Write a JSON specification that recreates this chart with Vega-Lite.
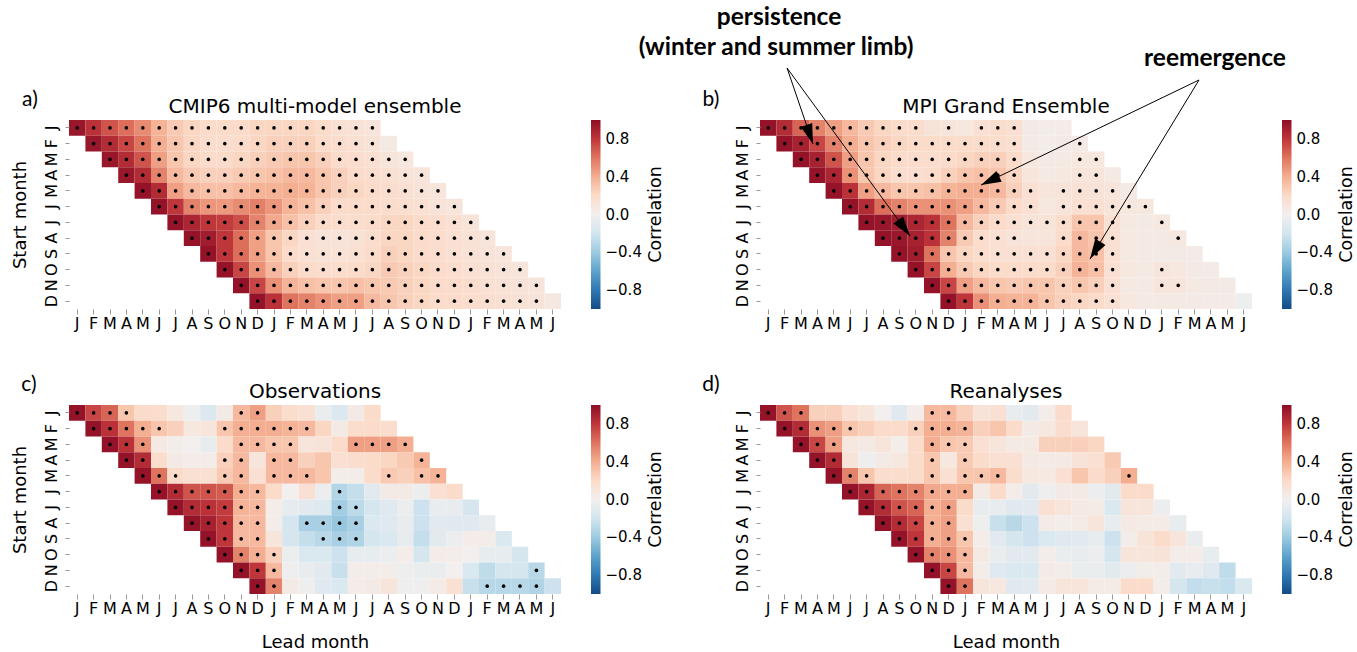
{
"$schema":"https://vega.github.io/schema/vega-lite/v6.json",
"background":"white",
"padding":{"left":11,"top":4,"right":0,"bottom":0},
"bounds":"flush",
"columns":2,
"spacing":{"row":96,"column":199},
"config":{
"view":{"stroke":null},
"font":"DejaVu Sans",
"axis":{"domain":false,"grid":false,"tickColor":"#999","tickWidth":1,"labelFont":"DejaVu Sans","labelFontSize":16,"labelColor":"#000","titleFont":"DejaVu Sans","titleFontSize":18,"titleFontWeight":"normal","titleColor":"#000","labelOverlap":false},
"legend":{"labelFont":"DejaVu Sans","labelColor":"#000","labelFontSize":15,"gradientStrokeWidth":0,"padding":0}
},
"datasets":{
"a":[
{"r":0,"c":0,"v":0.95,"s":1},{"r":0,"c":1,"v":0.82,"s":1},{"r":0,"c":2,"v":0.7,"s":1},{"r":0,"c":3,"v":0.62,"s":1},{"r":0,"c":4,"v":0.52,"s":1},{"r":0,"c":5,"v":0.38,"s":1},{"r":0,"c":6,"v":0.28,"s":1},{"r":0,"c":7,"v":0.22,"s":1},{"r":0,"c":8,"v":0.2,"s":1},{"r":0,"c":9,"v":0.2,"s":1},{"r":0,"c":10,"v":0.2,"s":1},{"r":0,"c":11,"v":0.22,"s":1},{"r":0,"c":12,"v":0.22,"s":1},{"r":0,"c":13,"v":0.22,"s":1},{"r":0,"c":14,"v":0.22,"s":1},{"r":0,"c":15,"v":0.2,"s":1},{"r":0,"c":16,"v":0.15,"s":1},{"r":0,"c":17,"v":0.13,"s":1},{"r":0,"c":18,"v":0.1,"s":1},
{"r":1,"c":1,"v":0.95,"s":1},{"r":1,"c":2,"v":0.85,"s":1},{"r":1,"c":3,"v":0.75,"s":1},{"r":1,"c":4,"v":0.6,"s":1},{"r":1,"c":5,"v":0.4,"s":1},{"r":1,"c":6,"v":0.3,"s":1},{"r":1,"c":7,"v":0.22,"s":1},{"r":1,"c":8,"v":0.18,"s":1},{"r":1,"c":9,"v":0.18,"s":1},{"r":1,"c":10,"v":0.2,"s":1},{"r":1,"c":11,"v":0.22,"s":1},{"r":1,"c":12,"v":0.25,"s":1},{"r":1,"c":13,"v":0.25,"s":1},{"r":1,"c":14,"v":0.25,"s":1},{"r":1,"c":15,"v":0.2,"s":1},{"r":1,"c":16,"v":0.18,"s":1},{"r":1,"c":17,"v":0.15,"s":1},{"r":1,"c":18,"v":0.12,"s":1},{"r":1,"c":19,"v":0.06,"s":0},
{"r":2,"c":2,"v":0.95,"s":1},{"r":2,"c":3,"v":0.85,"s":1},{"r":2,"c":4,"v":0.7,"s":1},{"r":2,"c":5,"v":0.45,"s":1},{"r":2,"c":6,"v":0.3,"s":1},{"r":2,"c":7,"v":0.22,"s":1},{"r":2,"c":8,"v":0.2,"s":1},{"r":2,"c":9,"v":0.2,"s":1},{"r":2,"c":10,"v":0.22,"s":1},{"r":2,"c":11,"v":0.25,"s":1},{"r":2,"c":12,"v":0.28,"s":1},{"r":2,"c":13,"v":0.3,"s":1},{"r":2,"c":14,"v":0.3,"s":1},{"r":2,"c":15,"v":0.25,"s":1},{"r":2,"c":16,"v":0.2,"s":1},{"r":2,"c":17,"v":0.18,"s":1},{"r":2,"c":18,"v":0.15,"s":1},{"r":2,"c":19,"v":0.1,"s":1},{"r":2,"c":20,"v":0.08,"s":1},
{"r":3,"c":3,"v":0.95,"s":1},{"r":3,"c":4,"v":0.85,"s":1},{"r":3,"c":5,"v":0.55,"s":1},{"r":3,"c":6,"v":0.35,"s":1},{"r":3,"c":7,"v":0.28,"s":1},{"r":3,"c":8,"v":0.25,"s":1},{"r":3,"c":9,"v":0.25,"s":1},{"r":3,"c":10,"v":0.28,"s":1},{"r":3,"c":11,"v":0.3,"s":1},{"r":3,"c":12,"v":0.32,"s":1},{"r":3,"c":13,"v":0.35,"s":1},{"r":3,"c":14,"v":0.35,"s":1},{"r":3,"c":15,"v":0.3,"s":1},{"r":3,"c":16,"v":0.25,"s":1},{"r":3,"c":17,"v":0.2,"s":1},{"r":3,"c":18,"v":0.18,"s":1},{"r":3,"c":19,"v":0.15,"s":1},{"r":3,"c":20,"v":0.12,"s":1},{"r":3,"c":21,"v":0.1,"s":1},
{"r":4,"c":4,"v":0.97,"s":1},{"r":4,"c":5,"v":0.85,"s":1},{"r":4,"c":6,"v":0.45,"s":1},{"r":4,"c":7,"v":0.35,"s":1},{"r":4,"c":8,"v":0.32,"s":1},{"r":4,"c":9,"v":0.32,"s":1},{"r":4,"c":10,"v":0.35,"s":1},{"r":4,"c":11,"v":0.38,"s":1},{"r":4,"c":12,"v":0.38,"s":1},{"r":4,"c":13,"v":0.4,"s":1},{"r":4,"c":14,"v":0.38,"s":1},{"r":4,"c":15,"v":0.3,"s":1},{"r":4,"c":16,"v":0.25,"s":1},{"r":4,"c":17,"v":0.22,"s":1},{"r":4,"c":18,"v":0.2,"s":1},{"r":4,"c":19,"v":0.18,"s":1},{"r":4,"c":20,"v":0.15,"s":1},{"r":4,"c":21,"v":0.12,"s":1},{"r":4,"c":22,"v":0.1,"s":1},
{"r":5,"c":5,"v":0.97,"s":1},{"r":5,"c":6,"v":0.8,"s":1},{"r":5,"c":7,"v":0.55,"s":1},{"r":5,"c":8,"v":0.48,"s":1},{"r":5,"c":9,"v":0.47,"s":1},{"r":5,"c":10,"v":0.52,"s":1},{"r":5,"c":11,"v":0.56,"s":1},{"r":5,"c":12,"v":0.48,"s":1},{"r":5,"c":13,"v":0.38,"s":1},{"r":5,"c":14,"v":0.32,"s":1},{"r":5,"c":15,"v":0.25,"s":1},{"r":5,"c":16,"v":0.2,"s":1},{"r":5,"c":17,"v":0.2,"s":1},{"r":5,"c":18,"v":0.2,"s":1},{"r":5,"c":19,"v":0.18,"s":1},{"r":5,"c":20,"v":0.17,"s":1},{"r":5,"c":21,"v":0.15,"s":1},{"r":5,"c":22,"v":0.12,"s":1},{"r":5,"c":23,"v":0.1,"s":1},
{"r":6,"c":6,"v":0.97,"s":1},{"r":6,"c":7,"v":0.88,"s":1},{"r":6,"c":8,"v":0.8,"s":1},{"r":6,"c":9,"v":0.78,"s":1},{"r":6,"c":10,"v":0.72,"s":1},{"r":6,"c":11,"v":0.55,"s":1},{"r":6,"c":12,"v":0.42,"s":1},{"r":6,"c":13,"v":0.32,"s":1},{"r":6,"c":14,"v":0.25,"s":1},{"r":6,"c":15,"v":0.2,"s":1},{"r":6,"c":16,"v":0.18,"s":1},{"r":6,"c":17,"v":0.18,"s":1},{"r":6,"c":18,"v":0.2,"s":1},{"r":6,"c":19,"v":0.22,"s":1},{"r":6,"c":20,"v":0.22,"s":1},{"r":6,"c":21,"v":0.2,"s":1},{"r":6,"c":22,"v":0.18,"s":1},{"r":6,"c":23,"v":0.15,"s":1},{"r":6,"c":24,"v":0.12,"s":1},
{"r":7,"c":7,"v":0.97,"s":1},{"r":7,"c":8,"v":0.92,"s":1},{"r":7,"c":9,"v":0.8,"s":1},{"r":7,"c":10,"v":0.62,"s":1},{"r":7,"c":11,"v":0.45,"s":1},{"r":7,"c":12,"v":0.3,"s":1},{"r":7,"c":13,"v":0.22,"s":1},{"r":7,"c":14,"v":0.15,"s":1},{"r":7,"c":15,"v":0.12,"s":1},{"r":7,"c":16,"v":0.12,"s":1},{"r":7,"c":17,"v":0.13,"s":1},{"r":7,"c":18,"v":0.18,"s":1},{"r":7,"c":19,"v":0.22,"s":1},{"r":7,"c":20,"v":0.22,"s":1},{"r":7,"c":21,"v":0.2,"s":1},{"r":7,"c":22,"v":0.18,"s":1},{"r":7,"c":23,"v":0.15,"s":1},{"r":7,"c":24,"v":0.13,"s":1},{"r":7,"c":25,"v":0.1,"s":1},
{"r":8,"c":8,"v":0.97,"s":1},{"r":8,"c":9,"v":0.8,"s":1},{"r":8,"c":10,"v":0.62,"s":1},{"r":8,"c":11,"v":0.45,"s":1},{"r":8,"c":12,"v":0.3,"s":1},{"r":8,"c":13,"v":0.2,"s":1},{"r":8,"c":14,"v":0.15,"s":1},{"r":8,"c":15,"v":0.13,"s":1},{"r":8,"c":16,"v":0.13,"s":1},{"r":8,"c":17,"v":0.15,"s":1},{"r":8,"c":18,"v":0.2,"s":1},{"r":8,"c":19,"v":0.25,"s":1},{"r":8,"c":20,"v":0.22,"s":1},{"r":8,"c":21,"v":0.2,"s":1},{"r":8,"c":22,"v":0.18,"s":1},{"r":8,"c":23,"v":0.15,"s":1},{"r":8,"c":24,"v":0.13,"s":1},{"r":8,"c":25,"v":0.12,"s":1},{"r":8,"c":26,"v":0.1,"s":1},
{"r":9,"c":9,"v":0.97,"s":1},{"r":9,"c":10,"v":0.75,"s":1},{"r":9,"c":11,"v":0.5,"s":1},{"r":9,"c":12,"v":0.35,"s":1},{"r":9,"c":13,"v":0.25,"s":1},{"r":9,"c":14,"v":0.2,"s":1},{"r":9,"c":15,"v":0.18,"s":1},{"r":9,"c":16,"v":0.18,"s":1},{"r":9,"c":17,"v":0.2,"s":1},{"r":9,"c":18,"v":0.22,"s":1},{"r":9,"c":19,"v":0.28,"s":1},{"r":9,"c":20,"v":0.25,"s":1},{"r":9,"c":21,"v":0.22,"s":1},{"r":9,"c":22,"v":0.2,"s":1},{"r":9,"c":23,"v":0.18,"s":1},{"r":9,"c":24,"v":0.15,"s":1},{"r":9,"c":25,"v":0.13,"s":1},{"r":9,"c":26,"v":0.12,"s":1},{"r":9,"c":27,"v":0.1,"s":1},
{"r":10,"c":10,"v":0.97,"s":1},{"r":10,"c":11,"v":0.75,"s":1},{"r":10,"c":12,"v":0.5,"s":1},{"r":10,"c":13,"v":0.38,"s":1},{"r":10,"c":14,"v":0.32,"s":1},{"r":10,"c":15,"v":0.3,"s":1},{"r":10,"c":16,"v":0.3,"s":1},{"r":10,"c":17,"v":0.32,"s":1},{"r":10,"c":18,"v":0.3,"s":1},{"r":10,"c":19,"v":0.28,"s":1},{"r":10,"c":20,"v":0.25,"s":1},{"r":10,"c":21,"v":0.22,"s":1},{"r":10,"c":22,"v":0.2,"s":1},{"r":10,"c":23,"v":0.2,"s":1},{"r":10,"c":24,"v":0.18,"s":1},{"r":10,"c":25,"v":0.15,"s":1},{"r":10,"c":26,"v":0.13,"s":1},{"r":10,"c":27,"v":0.12,"s":1},{"r":10,"c":28,"v":0.1,"s":1},
{"r":11,"c":11,"v":0.97,"s":1},{"r":11,"c":12,"v":0.82,"s":1},{"r":11,"c":13,"v":0.6,"s":1},{"r":11,"c":14,"v":0.55,"s":1},{"r":11,"c":15,"v":0.5,"s":1},{"r":11,"c":16,"v":0.45,"s":1},{"r":11,"c":17,"v":0.45,"s":1},{"r":11,"c":18,"v":0.35,"s":1},{"r":11,"c":19,"v":0.3,"s":1},{"r":11,"c":20,"v":0.25,"s":1},{"r":11,"c":21,"v":0.22,"s":1},{"r":11,"c":22,"v":0.2,"s":1},{"r":11,"c":23,"v":0.2,"s":1},{"r":11,"c":24,"v":0.18,"s":1},{"r":11,"c":25,"v":0.17,"s":1},{"r":11,"c":26,"v":0.15,"s":1},{"r":11,"c":27,"v":0.13,"s":1},{"r":11,"c":28,"v":0.12,"s":1},{"r":11,"c":29,"v":0.07,"s":0}
],
"b":[
{"r":0,"c":0,"v":0.97,"s":1},{"r":0,"c":1,"v":0.85,"s":1},{"r":0,"c":2,"v":0.65,"s":1},{"r":0,"c":3,"v":0.55,"s":1},{"r":0,"c":4,"v":0.45,"s":1},{"r":0,"c":5,"v":0.35,"s":1},{"r":0,"c":6,"v":0.28,"s":1},{"r":0,"c":7,"v":0.22,"s":1},{"r":0,"c":8,"v":0.2,"s":1},{"r":0,"c":9,"v":0.18,"s":1},{"r":0,"c":10,"v":0.12,"s":0},{"r":0,"c":11,"v":0.1,"s":1},{"r":0,"c":12,"v":0.08,"s":0},{"r":0,"c":13,"v":0.15,"s":1},{"r":0,"c":14,"v":0.18,"s":1},{"r":0,"c":15,"v":0.15,"s":1},{"r":0,"c":16,"v":0.05,"s":0},{"r":0,"c":17,"v":0.03,"s":0},{"r":0,"c":18,"v":0.03,"s":0},
{"r":1,"c":1,"v":0.97,"s":1},{"r":1,"c":2,"v":0.9,"s":1},{"r":1,"c":3,"v":0.75,"s":1},{"r":1,"c":4,"v":0.55,"s":1},{"r":1,"c":5,"v":0.4,"s":1},{"r":1,"c":6,"v":0.3,"s":1},{"r":1,"c":7,"v":0.25,"s":1},{"r":1,"c":8,"v":0.22,"s":1},{"r":1,"c":9,"v":0.2,"s":1},{"r":1,"c":10,"v":0.2,"s":1},{"r":1,"c":11,"v":0.2,"s":1},{"r":1,"c":12,"v":0.2,"s":1},{"r":1,"c":13,"v":0.2,"s":1},{"r":1,"c":14,"v":0.18,"s":1},{"r":1,"c":15,"v":0.15,"s":1},{"r":1,"c":16,"v":0.05,"s":0},{"r":1,"c":17,"v":0.03,"s":0},{"r":1,"c":18,"v":0.05,"s":0},{"r":1,"c":19,"v":0.05,"s":1},
{"r":2,"c":2,"v":0.97,"s":1},{"r":2,"c":3,"v":0.9,"s":1},{"r":2,"c":4,"v":0.7,"s":1},{"r":2,"c":5,"v":0.45,"s":1},{"r":2,"c":6,"v":0.3,"s":1},{"r":2,"c":7,"v":0.22,"s":1},{"r":2,"c":8,"v":0.2,"s":1},{"r":2,"c":9,"v":0.18,"s":1},{"r":2,"c":10,"v":0.18,"s":1},{"r":2,"c":11,"v":0.2,"s":1},{"r":2,"c":12,"v":0.22,"s":1},{"r":2,"c":13,"v":0.25,"s":1},{"r":2,"c":14,"v":0.25,"s":1},{"r":2,"c":15,"v":0.2,"s":1},{"r":2,"c":16,"v":0.08,"s":0},{"r":2,"c":17,"v":0.05,"s":0},{"r":2,"c":18,"v":0.06,"s":0},{"r":2,"c":19,"v":0.08,"s":1},{"r":2,"c":20,"v":0.08,"s":1},
{"r":3,"c":3,"v":0.97,"s":1},{"r":3,"c":4,"v":0.88,"s":1},{"r":3,"c":5,"v":0.5,"s":1},{"r":3,"c":6,"v":0.3,"s":1},{"r":3,"c":7,"v":0.22,"s":1},{"r":3,"c":8,"v":0.18,"s":1},{"r":3,"c":9,"v":0.17,"s":1},{"r":3,"c":10,"v":0.2,"s":1},{"r":3,"c":11,"v":0.25,"s":1},{"r":3,"c":12,"v":0.3,"s":1},{"r":3,"c":13,"v":0.32,"s":1},{"r":3,"c":14,"v":0.3,"s":1},{"r":3,"c":15,"v":0.22,"s":1},{"r":3,"c":16,"v":0.1,"s":0},{"r":3,"c":17,"v":0.06,"s":0},{"r":3,"c":18,"v":0.08,"s":0},{"r":3,"c":19,"v":0.1,"s":1},{"r":3,"c":20,"v":0.1,"s":1},{"r":3,"c":21,"v":0.06,"s":0},
{"r":4,"c":4,"v":0.97,"s":1},{"r":4,"c":5,"v":0.82,"s":1},{"r":4,"c":6,"v":0.45,"s":1},{"r":4,"c":7,"v":0.35,"s":1},{"r":4,"c":8,"v":0.3,"s":1},{"r":4,"c":9,"v":0.3,"s":1},{"r":4,"c":10,"v":0.32,"s":1},{"r":4,"c":11,"v":0.38,"s":1},{"r":4,"c":12,"v":0.4,"s":1},{"r":4,"c":13,"v":0.4,"s":1},{"r":4,"c":14,"v":0.35,"s":1},{"r":4,"c":15,"v":0.25,"s":1},{"r":4,"c":16,"v":0.15,"s":1},{"r":4,"c":17,"v":0.1,"s":0},{"r":4,"c":18,"v":0.12,"s":1},{"r":4,"c":19,"v":0.13,"s":1},{"r":4,"c":20,"v":0.12,"s":1},{"r":4,"c":21,"v":0.1,"s":1},{"r":4,"c":22,"v":0.05,"s":0},
{"r":5,"c":5,"v":0.97,"s":1},{"r":5,"c":6,"v":0.85,"s":1},{"r":5,"c":7,"v":0.62,"s":1},{"r":5,"c":8,"v":0.55,"s":1},{"r":5,"c":9,"v":0.5,"s":1},{"r":5,"c":10,"v":0.5,"s":1},{"r":5,"c":11,"v":0.5,"s":1},{"r":5,"c":12,"v":0.45,"s":1},{"r":5,"c":13,"v":0.35,"s":1},{"r":5,"c":14,"v":0.28,"s":1},{"r":5,"c":15,"v":0.2,"s":1},{"r":5,"c":16,"v":0.15,"s":1},{"r":5,"c":17,"v":0.08,"s":0},{"r":5,"c":18,"v":0.12,"s":1},{"r":5,"c":19,"v":0.15,"s":1},{"r":5,"c":20,"v":0.15,"s":1},{"r":5,"c":21,"v":0.12,"s":1},{"r":5,"c":22,"v":0.08,"s":1},{"r":5,"c":23,"v":0.08,"s":1},
{"r":6,"c":6,"v":0.97,"s":1},{"r":6,"c":7,"v":0.95,"s":1},{"r":6,"c":8,"v":0.92,"s":1},{"r":6,"c":9,"v":0.88,"s":1},{"r":6,"c":10,"v":0.82,"s":1},{"r":6,"c":11,"v":0.6,"s":1},{"r":6,"c":12,"v":0.35,"s":1},{"r":6,"c":13,"v":0.25,"s":1},{"r":6,"c":14,"v":0.2,"s":1},{"r":6,"c":15,"v":0.15,"s":1},{"r":6,"c":16,"v":0.12,"s":1},{"r":6,"c":17,"v":0.12,"s":1},{"r":6,"c":18,"v":0.18,"s":1},{"r":6,"c":19,"v":0.3,"s":1},{"r":6,"c":20,"v":0.3,"s":1},{"r":6,"c":21,"v":0.15,"s":1},{"r":6,"c":22,"v":0.06,"s":0},{"r":6,"c":23,"v":0.05,"s":0},{"r":6,"c":24,"v":0.08,"s":1},
{"r":7,"c":7,"v":0.97,"s":1},{"r":7,"c":8,"v":0.95,"s":1},{"r":7,"c":9,"v":0.9,"s":1},{"r":7,"c":10,"v":0.82,"s":1},{"r":7,"c":11,"v":0.55,"s":1},{"r":7,"c":12,"v":0.28,"s":1},{"r":7,"c":13,"v":0.18,"s":1},{"r":7,"c":14,"v":0.15,"s":1},{"r":7,"c":15,"v":0.12,"s":1},{"r":7,"c":16,"v":0.1,"s":0},{"r":7,"c":17,"v":0.1,"s":0},{"r":7,"c":18,"v":0.2,"s":1},{"r":7,"c":19,"v":0.35,"s":1},{"r":7,"c":20,"v":0.3,"s":1},{"r":7,"c":21,"v":0.15,"s":1},{"r":7,"c":22,"v":0.06,"s":0},{"r":7,"c":23,"v":0.06,"s":0},{"r":7,"c":24,"v":0.06,"s":0},{"r":7,"c":25,"v":0.08,"s":1},
{"r":8,"c":8,"v":0.97,"s":1},{"r":8,"c":9,"v":0.92,"s":1},{"r":8,"c":10,"v":0.6,"s":1},{"r":8,"c":11,"v":0.3,"s":1},{"r":8,"c":12,"v":0.22,"s":1},{"r":8,"c":13,"v":0.18,"s":1},{"r":8,"c":14,"v":0.15,"s":1},{"r":8,"c":15,"v":0.15,"s":1},{"r":8,"c":16,"v":0.15,"s":1},{"r":8,"c":17,"v":0.15,"s":1},{"r":8,"c":18,"v":0.22,"s":1},{"r":8,"c":19,"v":0.35,"s":1},{"r":8,"c":20,"v":0.32,"s":1},{"r":8,"c":21,"v":0.15,"s":1},{"r":8,"c":22,"v":0.06,"s":0},{"r":8,"c":23,"v":0.06,"s":0},{"r":8,"c":24,"v":0.05,"s":0},{"r":8,"c":25,"v":0.05,"s":0},{"r":8,"c":26,"v":0.04,"s":0},
{"r":9,"c":9,"v":0.97,"s":1},{"r":9,"c":10,"v":0.75,"s":1},{"r":9,"c":11,"v":0.4,"s":1},{"r":9,"c":12,"v":0.28,"s":1},{"r":9,"c":13,"v":0.22,"s":1},{"r":9,"c":14,"v":0.2,"s":1},{"r":9,"c":15,"v":0.2,"s":1},{"r":9,"c":16,"v":0.2,"s":1},{"r":9,"c":17,"v":0.2,"s":1},{"r":9,"c":18,"v":0.25,"s":1},{"r":9,"c":19,"v":0.38,"s":1},{"r":9,"c":20,"v":0.32,"s":1},{"r":9,"c":21,"v":0.15,"s":1},{"r":9,"c":22,"v":0.08,"s":0},{"r":9,"c":23,"v":0.06,"s":0},{"r":9,"c":24,"v":0.1,"s":1},{"r":9,"c":25,"v":0.08,"s":0},{"r":9,"c":26,"v":0.05,"s":0},{"r":9,"c":27,"v":0.04,"s":0},
{"r":10,"c":10,"v":0.97,"s":1},{"r":10,"c":11,"v":0.75,"s":1},{"r":10,"c":12,"v":0.45,"s":1},{"r":10,"c":13,"v":0.35,"s":1},{"r":10,"c":14,"v":0.3,"s":1},{"r":10,"c":15,"v":0.28,"s":1},{"r":10,"c":16,"v":0.3,"s":1},{"r":10,"c":17,"v":0.3,"s":1},{"r":10,"c":18,"v":0.25,"s":1},{"r":10,"c":19,"v":0.3,"s":1},{"r":10,"c":20,"v":0.25,"s":1},{"r":10,"c":21,"v":0.15,"s":1},{"r":10,"c":22,"v":0.06,"s":0},{"r":10,"c":23,"v":0.06,"s":0},{"r":10,"c":24,"v":0.1,"s":1},{"r":10,"c":25,"v":0.1,"s":1},{"r":10,"c":26,"v":0.06,"s":0},{"r":10,"c":27,"v":0.05,"s":0},{"r":10,"c":28,"v":0.05,"s":0},
{"r":11,"c":11,"v":0.97,"s":1},{"r":11,"c":12,"v":0.8,"s":1},{"r":11,"c":13,"v":0.5,"s":1},{"r":11,"c":14,"v":0.4,"s":1},{"r":11,"c":15,"v":0.38,"s":1},{"r":11,"c":16,"v":0.38,"s":1},{"r":11,"c":17,"v":0.3,"s":1},{"r":11,"c":18,"v":0.25,"s":1},{"r":11,"c":19,"v":0.22,"s":1},{"r":11,"c":20,"v":0.2,"s":1},{"r":11,"c":21,"v":0.15,"s":1},{"r":11,"c":22,"v":0.08,"s":0},{"r":11,"c":23,"v":0.05,"s":0},{"r":11,"c":24,"v":0.06,"s":0},{"r":11,"c":25,"v":0.06,"s":0},{"r":11,"c":26,"v":0.05,"s":0},{"r":11,"c":27,"v":0.04,"s":0},{"r":11,"c":28,"v":0.04,"s":0},{"r":11,"c":29,"v":-0.03,"s":0}
],
"c":[
{"r":0,"c":0,"v":0.97,"s":1},{"r":0,"c":1,"v":0.75,"s":1},{"r":0,"c":2,"v":0.65,"s":1},{"r":0,"c":3,"v":0.3,"s":1},{"r":0,"c":4,"v":0.2,"s":0},{"r":0,"c":5,"v":0.18,"s":0},{"r":0,"c":6,"v":0.08,"s":0},{"r":0,"c":7,"v":-0.03,"s":0},{"r":0,"c":8,"v":-0.14,"s":0},{"r":0,"c":9,"v":0.05,"s":0},{"r":0,"c":10,"v":0.35,"s":1},{"r":0,"c":11,"v":0.45,"s":1},{"r":0,"c":12,"v":0.25,"s":0},{"r":0,"c":13,"v":0.18,"s":0},{"r":0,"c":14,"v":0.15,"s":0},{"r":0,"c":15,"v":-0.05,"s":0},{"r":0,"c":16,"v":-0.14,"s":0},{"r":0,"c":17,"v":0.05,"s":0},{"r":0,"c":18,"v":0.2,"s":0},
{"r":1,"c":1,"v":0.97,"s":1},{"r":1,"c":2,"v":0.82,"s":1},{"r":1,"c":3,"v":0.6,"s":1},{"r":1,"c":4,"v":0.4,"s":1},{"r":1,"c":5,"v":0.3,"s":1},{"r":1,"c":6,"v":0.25,"s":0},{"r":1,"c":7,"v":0.08,"s":0},{"r":1,"c":8,"v":0.1,"s":0},{"r":1,"c":9,"v":0.3,"s":1},{"r":1,"c":10,"v":0.4,"s":1},{"r":1,"c":11,"v":0.4,"s":1},{"r":1,"c":12,"v":0.4,"s":1},{"r":1,"c":13,"v":0.38,"s":1},{"r":1,"c":14,"v":0.35,"s":1},{"r":1,"c":15,"v":0.22,"s":0},{"r":1,"c":16,"v":0.05,"s":0},{"r":1,"c":17,"v":0.18,"s":0},{"r":1,"c":18,"v":0.2,"s":0},{"r":1,"c":19,"v":0.18,"s":0},
{"r":2,"c":2,"v":0.97,"s":1},{"r":2,"c":3,"v":0.82,"s":1},{"r":2,"c":4,"v":0.5,"s":1},{"r":2,"c":5,"v":0.06,"s":0},{"r":2,"c":6,"v":0.02,"s":0},{"r":2,"c":7,"v":0.0,"s":0},{"r":2,"c":8,"v":-0.07,"s":0},{"r":2,"c":9,"v":0.2,"s":0},{"r":2,"c":10,"v":0.35,"s":1},{"r":2,"c":11,"v":0.35,"s":1},{"r":2,"c":12,"v":0.3,"s":1},{"r":2,"c":13,"v":0.3,"s":1},{"r":2,"c":14,"v":0.1,"s":0},{"r":2,"c":15,"v":0.12,"s":0},{"r":2,"c":16,"v":0.2,"s":0},{"r":2,"c":17,"v":0.45,"s":1},{"r":2,"c":18,"v":0.45,"s":1},{"r":2,"c":19,"v":0.45,"s":1},{"r":2,"c":20,"v":0.4,"s":1},
{"r":3,"c":3,"v":0.97,"s":1},{"r":3,"c":4,"v":0.85,"s":1},{"r":3,"c":5,"v":0.18,"s":0},{"r":3,"c":6,"v":0.05,"s":0},{"r":3,"c":7,"v":0.03,"s":0},{"r":3,"c":8,"v":0.03,"s":0},{"r":3,"c":9,"v":0.25,"s":1},{"r":3,"c":10,"v":0.35,"s":1},{"r":3,"c":11,"v":0.1,"s":0},{"r":3,"c":12,"v":0.35,"s":1},{"r":3,"c":13,"v":0.35,"s":1},{"r":3,"c":14,"v":0.25,"s":0},{"r":3,"c":15,"v":0.3,"s":0},{"r":3,"c":16,"v":0.15,"s":0},{"r":3,"c":17,"v":0.18,"s":0},{"r":3,"c":18,"v":0.2,"s":0},{"r":3,"c":19,"v":0.22,"s":0},{"r":3,"c":20,"v":0.28,"s":0},{"r":3,"c":21,"v":0.38,"s":1},
{"r":4,"c":4,"v":0.97,"s":1},{"r":4,"c":5,"v":0.6,"s":1},{"r":4,"c":6,"v":0.2,"s":1},{"r":4,"c":7,"v":0.15,"s":0},{"r":4,"c":8,"v":0.15,"s":0},{"r":4,"c":9,"v":0.28,"s":1},{"r":4,"c":10,"v":0.35,"s":1},{"r":4,"c":11,"v":0.15,"s":0},{"r":4,"c":12,"v":0.35,"s":1},{"r":4,"c":13,"v":0.35,"s":1},{"r":4,"c":14,"v":0.35,"s":1},{"r":4,"c":15,"v":0.3,"s":0},{"r":4,"c":16,"v":0.02,"s":0},{"r":4,"c":17,"v":0.03,"s":0},{"r":4,"c":18,"v":0.2,"s":0},{"r":4,"c":19,"v":0.28,"s":1},{"r":4,"c":20,"v":0.25,"s":0},{"r":4,"c":21,"v":0.32,"s":1},{"r":4,"c":22,"v":0.38,"s":1},
{"r":5,"c":5,"v":0.97,"s":1},{"r":5,"c":6,"v":0.85,"s":1},{"r":5,"c":7,"v":0.7,"s":1},{"r":5,"c":8,"v":0.7,"s":1},{"r":5,"c":9,"v":0.68,"s":1},{"r":5,"c":10,"v":0.4,"s":1},{"r":5,"c":11,"v":0.35,"s":1},{"r":5,"c":12,"v":0.2,"s":0},{"r":5,"c":13,"v":0.0,"s":0},{"r":5,"c":14,"v":0.15,"s":0},{"r":5,"c":15,"v":-0.04,"s":0},{"r":5,"c":16,"v":-0.32,"s":1},{"r":5,"c":17,"v":-0.25,"s":0},{"r":5,"c":18,"v":-0.1,"s":0},{"r":5,"c":19,"v":0.05,"s":0},{"r":5,"c":20,"v":0.05,"s":0},{"r":5,"c":21,"v":-0.04,"s":0},{"r":5,"c":22,"v":0.15,"s":0},{"r":5,"c":23,"v":0.2,"s":0},
{"r":6,"c":6,"v":0.97,"s":1},{"r":6,"c":7,"v":0.85,"s":1},{"r":6,"c":8,"v":0.82,"s":1},{"r":6,"c":9,"v":0.78,"s":1},{"r":6,"c":10,"v":0.38,"s":1},{"r":6,"c":11,"v":0.35,"s":1},{"r":6,"c":12,"v":0.03,"s":0},{"r":6,"c":13,"v":-0.08,"s":0},{"r":6,"c":14,"v":-0.1,"s":0},{"r":6,"c":15,"v":-0.13,"s":0},{"r":6,"c":16,"v":-0.38,"s":1},{"r":6,"c":17,"v":-0.28,"s":1},{"r":6,"c":18,"v":-0.18,"s":0},{"r":6,"c":19,"v":-0.12,"s":0},{"r":6,"c":20,"v":-0.04,"s":0},{"r":6,"c":21,"v":-0.22,"s":0},{"r":6,"c":22,"v":-0.06,"s":0},{"r":6,"c":23,"v":-0.06,"s":0},{"r":6,"c":24,"v":-0.18,"s":0},
{"r":7,"c":7,"v":0.97,"s":1},{"r":7,"c":8,"v":0.9,"s":1},{"r":7,"c":9,"v":0.8,"s":1},{"r":7,"c":10,"v":0.35,"s":1},{"r":7,"c":11,"v":0.35,"s":1},{"r":7,"c":12,"v":0.03,"s":0},{"r":7,"c":13,"v":-0.18,"s":0},{"r":7,"c":14,"v":-0.36,"s":1},{"r":7,"c":15,"v":-0.36,"s":1},{"r":7,"c":16,"v":-0.42,"s":1},{"r":7,"c":17,"v":-0.36,"s":1},{"r":7,"c":18,"v":-0.15,"s":0},{"r":7,"c":19,"v":-0.12,"s":0},{"r":7,"c":20,"v":-0.06,"s":0},{"r":7,"c":21,"v":-0.22,"s":0},{"r":7,"c":22,"v":-0.1,"s":0},{"r":7,"c":23,"v":-0.12,"s":0},{"r":7,"c":24,"v":-0.12,"s":0},{"r":7,"c":25,"v":-0.06,"s":0},
{"r":8,"c":8,"v":0.97,"s":1},{"r":8,"c":9,"v":0.8,"s":1},{"r":8,"c":10,"v":0.35,"s":1},{"r":8,"c":11,"v":0.35,"s":1},{"r":8,"c":12,"v":0.1,"s":0},{"r":8,"c":13,"v":-0.18,"s":0},{"r":8,"c":14,"v":-0.25,"s":0},{"r":8,"c":15,"v":-0.3,"s":1},{"r":8,"c":16,"v":-0.36,"s":1},{"r":8,"c":17,"v":-0.33,"s":1},{"r":8,"c":18,"v":-0.18,"s":0},{"r":8,"c":19,"v":-0.15,"s":0},{"r":8,"c":20,"v":-0.06,"s":0},{"r":8,"c":21,"v":-0.25,"s":0},{"r":8,"c":22,"v":-0.1,"s":0},{"r":8,"c":23,"v":-0.04,"s":0},{"r":8,"c":24,"v":0.03,"s":0},{"r":8,"c":25,"v":0.03,"s":0},{"r":8,"c":26,"v":-0.15,"s":0},
{"r":9,"c":9,"v":0.97,"s":1},{"r":9,"c":10,"v":0.55,"s":1},{"r":9,"c":11,"v":0.4,"s":1},{"r":9,"c":12,"v":0.25,"s":1},{"r":9,"c":13,"v":-0.04,"s":0},{"r":9,"c":14,"v":-0.15,"s":0},{"r":9,"c":15,"v":-0.15,"s":0},{"r":9,"c":16,"v":-0.22,"s":0},{"r":9,"c":17,"v":-0.07,"s":0},{"r":9,"c":18,"v":-0.07,"s":0},{"r":9,"c":19,"v":-0.04,"s":0},{"r":9,"c":20,"v":0.03,"s":0},{"r":9,"c":21,"v":-0.18,"s":0},{"r":9,"c":22,"v":0.03,"s":0},{"r":9,"c":23,"v":0.03,"s":0},{"r":9,"c":24,"v":0.0,"s":0},{"r":9,"c":25,"v":-0.07,"s":0},{"r":9,"c":26,"v":-0.07,"s":0},{"r":9,"c":27,"v":-0.18,"s":0},
{"r":10,"c":10,"v":0.97,"s":1},{"r":10,"c":11,"v":0.8,"s":1},{"r":10,"c":12,"v":0.35,"s":1},{"r":10,"c":13,"v":-0.02,"s":0},{"r":10,"c":14,"v":-0.06,"s":0},{"r":10,"c":15,"v":-0.1,"s":0},{"r":10,"c":16,"v":-0.24,"s":0},{"r":10,"c":17,"v":0.03,"s":0},{"r":10,"c":18,"v":0.03,"s":0},{"r":10,"c":19,"v":0.02,"s":0},{"r":10,"c":20,"v":-0.02,"s":0},{"r":10,"c":21,"v":-0.05,"s":0},{"r":10,"c":22,"v":-0.05,"s":0},{"r":10,"c":23,"v":0.0,"s":0},{"r":10,"c":24,"v":-0.15,"s":0},{"r":10,"c":25,"v":-0.27,"s":0},{"r":10,"c":26,"v":-0.18,"s":0},{"r":10,"c":27,"v":-0.18,"s":0},{"r":10,"c":28,"v":-0.3,"s":1},
{"r":11,"c":11,"v":0.97,"s":1},{"r":11,"c":12,"v":0.55,"s":1},{"r":11,"c":13,"v":0.05,"s":0},{"r":11,"c":14,"v":-0.02,"s":0},{"r":11,"c":15,"v":-0.12,"s":0},{"r":11,"c":16,"v":-0.15,"s":0},{"r":11,"c":17,"v":0.03,"s":0},{"r":11,"c":18,"v":0.05,"s":0},{"r":11,"c":19,"v":0.1,"s":0},{"r":11,"c":20,"v":-0.02,"s":0},{"r":11,"c":21,"v":-0.02,"s":0},{"r":11,"c":22,"v":0.04,"s":0},{"r":11,"c":23,"v":0.15,"s":0},{"r":11,"c":24,"v":-0.24,"s":0},{"r":11,"c":25,"v":-0.3,"s":1},{"r":11,"c":26,"v":-0.3,"s":1},{"r":11,"c":27,"v":-0.3,"s":1},{"r":11,"c":28,"v":-0.33,"s":1},{"r":11,"c":29,"v":-0.22,"s":0}
],
"d":[
{"r":0,"c":0,"v":0.97,"s":1},{"r":0,"c":1,"v":0.7,"s":1},{"r":0,"c":2,"v":0.6,"s":1},{"r":0,"c":3,"v":0.25,"s":0},{"r":0,"c":4,"v":0.25,"s":0},{"r":0,"c":5,"v":0.15,"s":0},{"r":0,"c":6,"v":0.1,"s":0},{"r":0,"c":7,"v":0.0,"s":0},{"r":0,"c":8,"v":-0.12,"s":0},{"r":0,"c":9,"v":0.03,"s":0},{"r":0,"c":10,"v":0.35,"s":1},{"r":0,"c":11,"v":0.35,"s":1},{"r":0,"c":12,"v":0.25,"s":0},{"r":0,"c":13,"v":0.12,"s":0},{"r":0,"c":14,"v":0.15,"s":0},{"r":0,"c":15,"v":-0.06,"s":0},{"r":0,"c":16,"v":-0.1,"s":0},{"r":0,"c":17,"v":0.03,"s":0},{"r":0,"c":18,"v":0.2,"s":0},
{"r":1,"c":1,"v":0.97,"s":1},{"r":1,"c":2,"v":0.85,"s":1},{"r":1,"c":3,"v":0.5,"s":1},{"r":1,"c":4,"v":0.45,"s":1},{"r":1,"c":5,"v":0.3,"s":1},{"r":1,"c":6,"v":0.25,"s":0},{"r":1,"c":7,"v":0.2,"s":0},{"r":1,"c":8,"v":0.2,"s":0},{"r":1,"c":9,"v":0.25,"s":1},{"r":1,"c":10,"v":0.4,"s":1},{"r":1,"c":11,"v":0.4,"s":1},{"r":1,"c":12,"v":0.38,"s":1},{"r":1,"c":13,"v":0.25,"s":0},{"r":1,"c":14,"v":0.3,"s":0},{"r":1,"c":15,"v":0.2,"s":0},{"r":1,"c":16,"v":0.05,"s":0},{"r":1,"c":17,"v":0.08,"s":0},{"r":1,"c":18,"v":0.18,"s":0},{"r":1,"c":19,"v":0.1,"s":0},
{"r":2,"c":2,"v":0.97,"s":1},{"r":2,"c":3,"v":0.75,"s":1},{"r":2,"c":4,"v":0.45,"s":1},{"r":2,"c":5,"v":0.08,"s":0},{"r":2,"c":6,"v":0.06,"s":0},{"r":2,"c":7,"v":0.1,"s":0},{"r":2,"c":8,"v":0.02,"s":0},{"r":2,"c":9,"v":0.2,"s":0},{"r":2,"c":10,"v":0.4,"s":1},{"r":2,"c":11,"v":0.3,"s":1},{"r":2,"c":12,"v":0.28,"s":1},{"r":2,"c":13,"v":0.15,"s":0},{"r":2,"c":14,"v":0.1,"s":0},{"r":2,"c":15,"v":0.05,"s":0},{"r":2,"c":16,"v":0.06,"s":0},{"r":2,"c":17,"v":0.25,"s":0},{"r":2,"c":18,"v":0.25,"s":0},{"r":2,"c":19,"v":0.25,"s":0},{"r":2,"c":20,"v":0.22,"s":0},
{"r":3,"c":3,"v":0.97,"s":1},{"r":3,"c":4,"v":0.85,"s":1},{"r":3,"c":5,"v":0.12,"s":0},{"r":3,"c":6,"v":-0.02,"s":0},{"r":3,"c":7,"v":0.05,"s":0},{"r":3,"c":8,"v":0.08,"s":0},{"r":3,"c":9,"v":0.2,"s":0},{"r":3,"c":10,"v":0.3,"s":1},{"r":3,"c":11,"v":0.08,"s":0},{"r":3,"c":12,"v":0.28,"s":1},{"r":3,"c":13,"v":0.2,"s":0},{"r":3,"c":14,"v":0.15,"s":0},{"r":3,"c":15,"v":0.15,"s":0},{"r":3,"c":16,"v":0.06,"s":0},{"r":3,"c":17,"v":0.04,"s":0},{"r":3,"c":18,"v":0.06,"s":0},{"r":3,"c":19,"v":0.12,"s":0},{"r":3,"c":20,"v":0.15,"s":0},{"r":3,"c":21,"v":0.28,"s":0},
{"r":4,"c":4,"v":0.97,"s":1},{"r":4,"c":5,"v":0.55,"s":1},{"r":4,"c":6,"v":0.3,"s":1},{"r":4,"c":7,"v":0.18,"s":0},{"r":4,"c":8,"v":0.18,"s":0},{"r":4,"c":9,"v":0.2,"s":0},{"r":4,"c":10,"v":0.3,"s":1},{"r":4,"c":11,"v":0.15,"s":0},{"r":4,"c":12,"v":0.3,"s":1},{"r":4,"c":13,"v":0.3,"s":1},{"r":4,"c":14,"v":0.35,"s":1},{"r":4,"c":15,"v":0.18,"s":0},{"r":4,"c":16,"v":0.08,"s":0},{"r":4,"c":17,"v":0.06,"s":0},{"r":4,"c":18,"v":0.15,"s":0},{"r":4,"c":19,"v":0.3,"s":0},{"r":4,"c":20,"v":0.2,"s":0},{"r":4,"c":21,"v":0.25,"s":0},{"r":4,"c":22,"v":0.4,"s":1},
{"r":5,"c":5,"v":0.97,"s":1},{"r":5,"c":6,"v":0.88,"s":1},{"r":5,"c":7,"v":0.65,"s":1},{"r":5,"c":8,"v":0.6,"s":1},{"r":5,"c":9,"v":0.55,"s":1},{"r":5,"c":10,"v":0.42,"s":1},{"r":5,"c":11,"v":0.4,"s":1},{"r":5,"c":12,"v":0.4,"s":1},{"r":5,"c":13,"v":0.05,"s":0},{"r":5,"c":14,"v":0.2,"s":0},{"r":5,"c":15,"v":0.03,"s":0},{"r":5,"c":16,"v":-0.1,"s":0},{"r":5,"c":17,"v":-0.02,"s":0},{"r":5,"c":18,"v":0.05,"s":0},{"r":5,"c":19,"v":0.05,"s":0},{"r":5,"c":20,"v":-0.04,"s":0},{"r":5,"c":21,"v":-0.1,"s":0},{"r":5,"c":22,"v":0.2,"s":0},{"r":5,"c":23,"v":0.2,"s":0},
{"r":6,"c":6,"v":0.97,"s":1},{"r":6,"c":7,"v":0.85,"s":1},{"r":6,"c":8,"v":0.7,"s":1},{"r":6,"c":9,"v":0.65,"s":1},{"r":6,"c":10,"v":0.4,"s":1},{"r":6,"c":11,"v":0.45,"s":1},{"r":6,"c":12,"v":0.2,"s":0},{"r":6,"c":13,"v":-0.06,"s":0},{"r":6,"c":14,"v":-0.06,"s":0},{"r":6,"c":15,"v":-0.12,"s":0},{"r":6,"c":16,"v":-0.1,"s":0},{"r":6,"c":17,"v":0.15,"s":0},{"r":6,"c":18,"v":0.1,"s":0},{"r":6,"c":19,"v":0.06,"s":0},{"r":6,"c":20,"v":0.04,"s":0},{"r":6,"c":21,"v":-0.15,"s":0},{"r":6,"c":22,"v":0.1,"s":0},{"r":6,"c":23,"v":0.1,"s":0},{"r":6,"c":24,"v":-0.04,"s":0},
{"r":7,"c":7,"v":0.97,"s":1},{"r":7,"c":8,"v":0.85,"s":1},{"r":7,"c":9,"v":0.75,"s":1},{"r":7,"c":10,"v":0.4,"s":1},{"r":7,"c":11,"v":0.45,"s":1},{"r":7,"c":12,"v":0.15,"s":0},{"r":7,"c":13,"v":-0.02,"s":0},{"r":7,"c":14,"v":-0.24,"s":0},{"r":7,"c":15,"v":-0.3,"s":0},{"r":7,"c":16,"v":-0.22,"s":0},{"r":7,"c":17,"v":0.04,"s":0},{"r":7,"c":18,"v":0.02,"s":0},{"r":7,"c":19,"v":0.04,"s":0},{"r":7,"c":20,"v":0.1,"s":0},{"r":7,"c":21,"v":-0.07,"s":0},{"r":7,"c":22,"v":0.06,"s":0},{"r":7,"c":23,"v":0.04,"s":0},{"r":7,"c":24,"v":0.04,"s":0},{"r":7,"c":25,"v":-0.07,"s":0},
{"r":8,"c":8,"v":0.97,"s":1},{"r":8,"c":9,"v":0.8,"s":1},{"r":8,"c":10,"v":0.4,"s":1},{"r":8,"c":11,"v":0.45,"s":1},{"r":8,"c":12,"v":0.3,"s":1},{"r":8,"c":13,"v":0.03,"s":0},{"r":8,"c":14,"v":-0.1,"s":0},{"r":8,"c":15,"v":-0.18,"s":0},{"r":8,"c":16,"v":-0.22,"s":0},{"r":8,"c":17,"v":-0.15,"s":0},{"r":8,"c":18,"v":-0.12,"s":0},{"r":8,"c":19,"v":-0.1,"s":0},{"r":8,"c":20,"v":-0.07,"s":0},{"r":8,"c":21,"v":-0.22,"s":0},{"r":8,"c":22,"v":0.02,"s":0},{"r":8,"c":23,"v":0.12,"s":0},{"r":8,"c":24,"v":0.2,"s":0},{"r":8,"c":25,"v":0.1,"s":0},{"r":8,"c":26,"v":-0.05,"s":0},
{"r":9,"c":9,"v":0.97,"s":1},{"r":9,"c":10,"v":0.55,"s":1},{"r":9,"c":11,"v":0.5,"s":1},{"r":9,"c":12,"v":0.35,"s":1},{"r":9,"c":13,"v":0.06,"s":0},{"r":9,"c":14,"v":-0.05,"s":0},{"r":9,"c":15,"v":-0.1,"s":0},{"r":9,"c":16,"v":-0.1,"s":0},{"r":9,"c":17,"v":0.03,"s":0},{"r":9,"c":18,"v":-0.05,"s":0},{"r":9,"c":19,"v":-0.06,"s":0},{"r":9,"c":20,"v":-0.04,"s":0},{"r":9,"c":21,"v":-0.18,"s":0},{"r":9,"c":22,"v":0.1,"s":0},{"r":9,"c":23,"v":0.1,"s":0},{"r":9,"c":24,"v":0.12,"s":0},{"r":9,"c":25,"v":0.03,"s":0},{"r":9,"c":26,"v":0.03,"s":0},{"r":9,"c":27,"v":-0.07,"s":0},
{"r":10,"c":10,"v":0.97,"s":1},{"r":10,"c":11,"v":0.75,"s":1},{"r":10,"c":12,"v":0.35,"s":1},{"r":10,"c":13,"v":0.02,"s":0},{"r":10,"c":14,"v":-0.12,"s":0},{"r":10,"c":15,"v":-0.15,"s":0},{"r":10,"c":16,"v":-0.15,"s":0},{"r":10,"c":17,"v":0.04,"s":0},{"r":10,"c":18,"v":0.03,"s":0},{"r":10,"c":19,"v":-0.05,"s":0},{"r":10,"c":20,"v":-0.05,"s":0},{"r":10,"c":21,"v":-0.1,"s":0},{"r":10,"c":22,"v":-0.04,"s":0},{"r":10,"c":23,"v":0.02,"s":0},{"r":10,"c":24,"v":0.02,"s":0},{"r":10,"c":25,"v":-0.1,"s":0},{"r":10,"c":26,"v":-0.06,"s":0},{"r":10,"c":27,"v":-0.12,"s":0},{"r":10,"c":28,"v":-0.27,"s":0},
{"r":11,"c":11,"v":0.97,"s":1},{"r":11,"c":12,"v":0.6,"s":1},{"r":11,"c":13,"v":0.1,"s":0},{"r":11,"c":14,"v":0.08,"s":0},{"r":11,"c":15,"v":-0.12,"s":0},{"r":11,"c":16,"v":-0.1,"s":0},{"r":11,"c":17,"v":0.04,"s":0},{"r":11,"c":18,"v":0.1,"s":0},{"r":11,"c":19,"v":0.1,"s":0},{"r":11,"c":20,"v":0.04,"s":0},{"r":11,"c":21,"v":0.04,"s":0},{"r":11,"c":22,"v":0.2,"s":0},{"r":11,"c":23,"v":0.2,"s":0},{"r":11,"c":24,"v":0.02,"s":0},{"r":11,"c":25,"v":-0.18,"s":0},{"r":11,"c":26,"v":-0.26,"s":0},{"r":11,"c":27,"v":-0.24,"s":0},{"r":11,"c":28,"v":-0.26,"s":0},{"r":11,"c":29,"v":-0.15,"s":0}
],
"notes":[
{"p":"a","k":"letter","x":-2.38,"y":-1.3,"t":"a)"},
{"p":"b","k":"letter","x":-2.99,"y":-1.3,"t":"b)"},
{"p":"c","k":"letter","x":-2.44,"y":-1.3,"t":"c)"},
{"p":"d","k":"letter","x":-2.99,"y":-1.3,"t":"d)"},
{"p":"a","k":"title","x":15,"y":-0.44,"t":"CMIP6 multi-model ensemble"},
{"p":"b","k":"title","x":15,"y":-0.44,"t":"MPI Grand Ensemble"},
{"p":"c","k":"title","x":15,"y":-0.44,"t":"Observations"},
{"p":"d","k":"title","x":15,"y":-0.44,"t":"Reanalyses"},
{"p":"a","k":"cbar","x":35.8,"y":6,"t":"Correlation"},
{"p":"b","k":"cbar","x":35.8,"y":6,"t":"Correlation"},
{"p":"c","k":"cbar","x":35.8,"y":6,"t":"Correlation"},
{"p":"d","k":"cbar","x":35.8,"y":6,"t":"Correlation"},
{"p":"b","k":"note","x":1.16,"y":-6.48,"t":"persistence"},
{"p":"b","k":"note","x":0.98,"y":-4.6,"t":"(winter and summer limb)"},
{"p":"b","k":"note","x":27.74,"y":-3.87,"t":"reemergence"}
],
"arrows":[
{"x0":1.65,"y0":-3.3,"x1":3.23,"y1":1.52},
{"x0":1.65,"y0":-3.3,"x1":9.15,"y1":7.37},
{"x0":26.77,"y0":-2.54,"x1":13.48,"y1":4.13},
{"x0":26.77,"y0":-2.54,"x1":20.12,"y1":8.83}
]
},
"concat":[
{"width":492,"height":189,
"layer":[
{"layer":[
{"data":{"name":"a"},"mark":{"type":"rect"},
"encoding":{
"x":{"field":"c","type":"ordinal","scale":{"domain":[0,1,2,3,4,5,6,7,8,9,10,11,12,13,14,15,16,17,18,19,20,21,22,23,24,25,26,27,28,29],"paddingInner":0,"paddingOuter":0},"axis":{"title":null,"labelAngle":0,"labelExpr":"['J','F','M','A','M','J','J','A','S','O','N','D'][datum.value % 12]","tickSize":5,"labelPadding":1.5}},
"y":{"field":"r","type":"ordinal","scale":{"domain":[0,1,2,3,4,5,6,7,8,9,10,11],"paddingInner":0,"paddingOuter":0},"axis":{"title":"Start month","labelAngle":-90,"labelAlign":"center","labelBaseline":"bottom","labelExpr":"['J','F','M','A','M','J','J','A','S','O','N','D'][datum.value]","tickSize":4,"labelPadding":6,"titlePadding":14}},
"color":{"field":"v","type":"quantitative","scale":{"scheme":"redblue","reverse":true,"domain":[-1,1]},"legend":{"type":"gradient","title":null,"orient":"right","direction":"vertical","values":[-0.8,-0.4,0,0.4,0.8],"labelExpr":"replace(format(datum.value,'.1f'),'-','−')","gradientLength":189,"gradientThickness":9.5,"offset":30,"labelOffset":5}}}},
{"data":{"name":"a"},"transform":[{"filter":"datum.s == 1"}],"mark":{"type":"circle","size":13,"color":"black","opacity":1},
"encoding":{"x":{"field":"c","type":"ordinal"},"y":{"field":"r","type":"ordinal"}}}
]},
{"data":{"name":"notes"},"transform":[{"filter":"datum.p == 'a'"}],
"encoding":{"x":{"field":"x","type":"quantitative","scale":{"domain":[0,30],"nice":false,"zero":false},"axis":null},"y":{"field":"y","type":"quantitative","scale":{"domain":[0,12],"reverse":true,"nice":false,"zero":false},"axis":null},"text":{"field":"t"}},
"layer":[
{"transform":[{"filter":"datum.k == 'letter'"}],"mark":{"type":"text","font":"Lato","fontSize":21,"align":"center","baseline":"middle","color":"black"}},
{"transform":[{"filter":"datum.k == 'title'"}],"mark":{"type":"text","font":"DejaVu Sans","fontSize":20,"align":"center","baseline":"alphabetic","color":"black"}},
{"transform":[{"filter":"datum.k == 'cbar'"}],"mark":{"type":"text","font":"DejaVu Sans","fontSize":17.5,"align":"center","baseline":"middle","angle":-90,"color":"black"}}
]}
],
"resolve":{"scale":{"x":"independent","y":"independent"}}},

{"width":492,"height":189,
"layer":[
{"layer":[
{"data":{"name":"b"},"mark":{"type":"rect"},
"encoding":{
"x":{"field":"c","type":"ordinal","scale":{"domain":[0,1,2,3,4,5,6,7,8,9,10,11,12,13,14,15,16,17,18,19,20,21,22,23,24,25,26,27,28,29],"paddingInner":0,"paddingOuter":0},"axis":{"title":null,"labelAngle":0,"labelExpr":"['J','F','M','A','M','J','J','A','S','O','N','D'][datum.value % 12]","tickSize":5,"labelPadding":1.5}},
"y":{"field":"r","type":"ordinal","scale":{"domain":[0,1,2,3,4,5,6,7,8,9,10,11],"paddingInner":0,"paddingOuter":0},"axis":{"title":null,"labelAngle":-90,"labelAlign":"center","labelBaseline":"bottom","labelExpr":"['J','F','M','A','M','J','J','A','S','O','N','D'][datum.value]","tickSize":4,"labelPadding":6}},
"color":{"field":"v","type":"quantitative","scale":{"scheme":"redblue","reverse":true,"domain":[-1,1]},"legend":{"type":"gradient","title":null,"orient":"right","direction":"vertical","values":[-0.8,-0.4,0,0.4,0.8],"labelExpr":"replace(format(datum.value,'.1f'),'-','−')","gradientLength":189,"gradientThickness":9.5,"offset":30,"labelOffset":5}}}},
{"data":{"name":"b"},"transform":[{"filter":"datum.s == 1"}],"mark":{"type":"circle","size":13,"color":"black","opacity":1},
"encoding":{"x":{"field":"c","type":"ordinal"},"y":{"field":"r","type":"ordinal"}}}
]},
{"layer":[
{"data":{"name":"notes"},"transform":[{"filter":"datum.p == 'b' && datum.k == 'letter'"}],"mark":{"type":"text","font":"Lato","fontSize":21,"align":"center","baseline":"middle","color":"black"},
"encoding":{"x":{"field":"x","type":"quantitative","scale":{"domain":[0,30],"nice":false,"zero":false},"axis":null},"y":{"field":"y","type":"quantitative","scale":{"domain":[0,12],"reverse":true,"nice":false,"zero":false},"axis":null},"text":{"field":"t"}}},
{"data":{"name":"notes"},"transform":[{"filter":"datum.p == 'b' && datum.k == 'title'"}],"mark":{"type":"text","font":"DejaVu Sans","fontSize":20,"align":"center","baseline":"alphabetic","color":"black"},
"encoding":{"x":{"field":"x","type":"quantitative","scale":{"domain":[0,30],"nice":false,"zero":false},"axis":null},"y":{"field":"y","type":"quantitative","scale":{"domain":[0,12],"reverse":true,"nice":false,"zero":false},"axis":null},"text":{"field":"t"}}},
{"data":{"name":"notes"},"transform":[{"filter":"datum.p == 'b' && datum.k == 'cbar'"}],"mark":{"type":"text","font":"DejaVu Sans","fontSize":17.5,"align":"center","baseline":"middle","angle":-90,"color":"black"},
"encoding":{"x":{"field":"x","type":"quantitative","scale":{"domain":[0,30],"nice":false,"zero":false},"axis":null},"y":{"field":"y","type":"quantitative","scale":{"domain":[0,12],"reverse":true,"nice":false,"zero":false},"axis":null},"text":{"field":"t"}}},
{"data":{"name":"notes"},"transform":[{"filter":"datum.p == 'b' && datum.k == 'note'"}],"mark":{"type":"text","font":"Lato","fontSize":24.5,"fontWeight":"bold","align":"center","baseline":"middle","color":"black"},
"encoding":{"x":{"field":"x","type":"quantitative","scale":{"domain":[0,30],"nice":false,"zero":false},"axis":null},"y":{"field":"y","type":"quantitative","scale":{"domain":[0,12],"reverse":true,"nice":false,"zero":false},"axis":null},"text":{"field":"t"}}},
{"data":{"name":"arrows"},"mark":{"type":"rule","color":"black","strokeWidth":1},
"encoding":{"x":{"field":"x0","type":"quantitative","scale":{"domain":[0,30],"nice":false,"zero":false},"axis":null},"y":{"field":"y0","type":"quantitative","scale":{"domain":[0,12],"reverse":true,"nice":false,"zero":false},"axis":null},"x2":{"field":"x1"},"y2":{"field":"y1"}}},
{"data":{"name":"arrows"},"transform":[{"calculate":"atan2((datum.x1-datum.x0)*16.4, -(datum.y1-datum.y0)*15.75)*180/PI","as":"ang"}],"mark":{"type":"point","shape":"M0,0L-0.3,1L0.3,1Z","size":1600,"filled":true,"color":"black","opacity":1,"strokeWidth":0},
"encoding":{"x":{"field":"x1","type":"quantitative","scale":{"domain":[0,30],"nice":false,"zero":false},"axis":null},"y":{"field":"y1","type":"quantitative","scale":{"domain":[0,12],"reverse":true,"nice":false,"zero":false},"axis":null},"angle":{"field":"ang","type":"quantitative","scale":null}}}
]}
],
"resolve":{"scale":{"x":"independent","y":"independent"}}},

{"width":492,"height":189,
"layer":[
{"layer":[
{"data":{"name":"c"},"mark":{"type":"rect"},
"encoding":{
"x":{"field":"c","type":"ordinal","scale":{"domain":[0,1,2,3,4,5,6,7,8,9,10,11,12,13,14,15,16,17,18,19,20,21,22,23,24,25,26,27,28,29],"paddingInner":0,"paddingOuter":0},"axis":{"title":"Lead month","labelAngle":0,"labelExpr":"['J','F','M','A','M','J','J','A','S','O','N','D'][datum.value % 12]","tickSize":5,"labelPadding":1.5,"titlePadding":17}},
"y":{"field":"r","type":"ordinal","scale":{"domain":[0,1,2,3,4,5,6,7,8,9,10,11],"paddingInner":0,"paddingOuter":0},"axis":{"title":"Start month","labelAngle":-90,"labelAlign":"center","labelBaseline":"bottom","labelExpr":"['J','F','M','A','M','J','J','A','S','O','N','D'][datum.value]","tickSize":4,"labelPadding":6,"titlePadding":14}},
"color":{"field":"v","type":"quantitative","scale":{"scheme":"redblue","reverse":true,"domain":[-1,1]},"legend":{"type":"gradient","title":null,"orient":"right","direction":"vertical","values":[-0.8,-0.4,0,0.4,0.8],"labelExpr":"replace(format(datum.value,'.1f'),'-','−')","gradientLength":189,"gradientThickness":9.5,"offset":30,"labelOffset":5}}}},
{"data":{"name":"c"},"transform":[{"filter":"datum.s == 1"}],"mark":{"type":"circle","size":13,"color":"black","opacity":1},
"encoding":{"x":{"field":"c","type":"ordinal"},"y":{"field":"r","type":"ordinal"}}}
]},
{"data":{"name":"notes"},"transform":[{"filter":"datum.p == 'c'"}],
"encoding":{"x":{"field":"x","type":"quantitative","scale":{"domain":[0,30],"nice":false,"zero":false},"axis":null},"y":{"field":"y","type":"quantitative","scale":{"domain":[0,12],"reverse":true,"nice":false,"zero":false},"axis":null},"text":{"field":"t"}},
"layer":[
{"transform":[{"filter":"datum.k == 'letter'"}],"mark":{"type":"text","font":"Lato","fontSize":21,"align":"center","baseline":"middle","color":"black"}},
{"transform":[{"filter":"datum.k == 'title'"}],"mark":{"type":"text","font":"DejaVu Sans","fontSize":20,"align":"center","baseline":"alphabetic","color":"black"}},
{"transform":[{"filter":"datum.k == 'cbar'"}],"mark":{"type":"text","font":"DejaVu Sans","fontSize":17.5,"align":"center","baseline":"middle","angle":-90,"color":"black"}}
]}
],
"resolve":{"scale":{"x":"independent","y":"independent"}}},

{"width":492,"height":189,
"layer":[
{"layer":[
{"data":{"name":"d"},"mark":{"type":"rect"},
"encoding":{
"x":{"field":"c","type":"ordinal","scale":{"domain":[0,1,2,3,4,5,6,7,8,9,10,11,12,13,14,15,16,17,18,19,20,21,22,23,24,25,26,27,28,29],"paddingInner":0,"paddingOuter":0},"axis":{"title":"Lead month","labelAngle":0,"labelExpr":"['J','F','M','A','M','J','J','A','S','O','N','D'][datum.value % 12]","tickSize":5,"labelPadding":1.5,"titlePadding":17}},
"y":{"field":"r","type":"ordinal","scale":{"domain":[0,1,2,3,4,5,6,7,8,9,10,11],"paddingInner":0,"paddingOuter":0},"axis":{"title":null,"labelAngle":-90,"labelAlign":"center","labelBaseline":"bottom","labelExpr":"['J','F','M','A','M','J','J','A','S','O','N','D'][datum.value]","tickSize":4,"labelPadding":6}},
"color":{"field":"v","type":"quantitative","scale":{"scheme":"redblue","reverse":true,"domain":[-1,1]},"legend":{"type":"gradient","title":null,"orient":"right","direction":"vertical","values":[-0.8,-0.4,0,0.4,0.8],"labelExpr":"replace(format(datum.value,'.1f'),'-','−')","gradientLength":189,"gradientThickness":9.5,"offset":30,"labelOffset":5}}}},
{"data":{"name":"d"},"transform":[{"filter":"datum.s == 1"}],"mark":{"type":"circle","size":13,"color":"black","opacity":1},
"encoding":{"x":{"field":"c","type":"ordinal"},"y":{"field":"r","type":"ordinal"}}}
]},
{"data":{"name":"notes"},"transform":[{"filter":"datum.p == 'd'"}],
"encoding":{"x":{"field":"x","type":"quantitative","scale":{"domain":[0,30],"nice":false,"zero":false},"axis":null},"y":{"field":"y","type":"quantitative","scale":{"domain":[0,12],"reverse":true,"nice":false,"zero":false},"axis":null},"text":{"field":"t"}},
"layer":[
{"transform":[{"filter":"datum.k == 'letter'"}],"mark":{"type":"text","font":"Lato","fontSize":21,"align":"center","baseline":"middle","color":"black"}},
{"transform":[{"filter":"datum.k == 'title'"}],"mark":{"type":"text","font":"DejaVu Sans","fontSize":20,"align":"center","baseline":"alphabetic","color":"black"}},
{"transform":[{"filter":"datum.k == 'cbar'"}],"mark":{"type":"text","font":"DejaVu Sans","fontSize":17.5,"align":"center","baseline":"middle","angle":-90,"color":"black"}}
]}
],
"resolve":{"scale":{"x":"independent","y":"independent"}}}
],
"resolve":{"scale":{"color":"independent","x":"independent","y":"independent"},"legend":{"color":"independent"}}
}
